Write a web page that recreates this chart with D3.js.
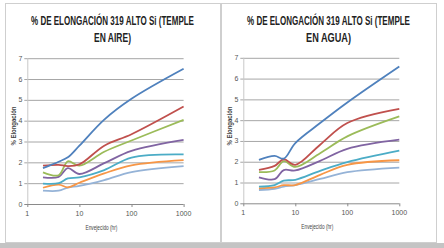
<!DOCTYPE html>
<html>
<head>
<meta charset="utf-8">
<script src="https://cdn.jsdelivr.net/npm/d3@7"></script>
<style>
  body { margin: 0; background: #fff; }
  svg { display: block; }
</style>
</head>
<body>
<div id="chart"></div>
<script>
// hours of aging (x axis, log scale)
const hours = [2, 4, 6, 10, 30, 100, 1000];
const xTicks = [1, 10, 100, 1000];
const yTicks = [0, 1, 2, 3, 4, 5, 6, 7];

// temple en aire
const aire1 = [1.72, 2.03, 2.24, 2.8, 4.05, 5.05, 6.49];
const aire2 = [1.84, 1.88, 1.82, 1.9, 2.8, 3.35, 4.68];
const aire3 = [1.52, 1.38, 2.05, 1.84, 2.51, 3.05, 4.04];
const aire4 = [1.28, 1.3, 1.72, 1.44, 1.96, 2.55, 3.08];
const aire5 = [0.98, 1.0, 1.23, 1.28, 1.63, 2.23, 2.38];
const aire6 = [0.78, 0.93, 0.8, 1.02, 1.47, 1.86, 2.11];
const aire7 = [0.64, 0.64, 0.79, 0.87, 1.15, 1.53, 1.82];

// temple en agua
const agua1 = [2.09, 2.28, 2.15, 2.9, 3.86, 4.85, 6.58];
const agua2 = [1.61, 1.8, 2.12, 1.85, 2.82, 3.86, 4.54];
const agua3 = [1.5, 1.58, 2.03, 1.75, 2.41, 3.22, 4.18];
const agua4 = [1.25, 1.16, 1.6, 1.58, 2.04, 2.62, 3.06];
const agua5 = [0.8, 0.88, 1.09, 1.13, 1.56, 1.98, 2.53];
const agua6 = [0.72, 0.77, 0.87, 0.88, 1.37, 1.85, 2.07];
const agua7 = [0.64, 0.7, 0.8, 0.88, 1.17, 1.5, 1.72];

const colors = ['#4F81BD', '#C0504D', '#9BBB59', '#8064A2', '#4BACC6', '#F79646', '#95B3D7'];

const width = 444, height = 248;
const font = 'Liberation Sans, Arial, sans-serif';

const svg = d3.select('#chart').append('svg')
  .attr('width', width)
  .attr('height', height);

// grey strip at the bottom
svg.append('rect').attr('x', 0).attr('y', 243).attr('width', width).attr('height', 5).attr('fill', '#c4c4c4');

// squeeze a text horizontally so it takes the given width (condensed look)
function fitText(sel, cx, cy, w) {
  const natural = sel.node().getComputedTextLength();
  sel.attr('x', 0).attr('y', 0)
    .attr('transform', `translate(${cx},${cy}) scale(${w / natural},1)`);
}

function drawChart(px, pw, plot, title1, title2, series, t2w) {
  // panel border
  svg.append('rect')
    .attr('x', px + 0.5).attr('y', 3.5)
    .attr('width', pw).attr('height', 239)
    .attr('fill', '#fff').attr('stroke', '#cfcfcf');

  const x = d3.scaleLog().domain([1, 1000]).range([plot.left, plot.right]);
  const y = d3.scaleLinear().domain([0, 7]).range([plot.bottom, plot.top]);

  const g = svg.append('g');

  // gridlines
  g.selectAll('line.grid').data(yTicks).join('line')
    .attr('x1', plot.left - 3).attr('x2', plot.right)
    .attr('y1', d => y(d) + 0.5).attr('y2', d => y(d) + 0.5)
    .attr('stroke', d => d === 0 ? '#8a8a8a' : '#a6a6a6').attr('stroke-width', 1);

  // y axis line
  g.append('line')
    .attr('x1', plot.left + 0.5).attr('x2', plot.left + 0.5)
    .attr('y1', plot.top).attr('y2', plot.bottom)
    .attr('stroke', '#c8c8c8');

  // x ticks
  g.selectAll('line.xt').data(xTicks).join('line')
    .attr('x1', d => x(d) + 0.5).attr('x2', d => x(d) + 0.5)
    .attr('y1', plot.bottom).attr('y2', plot.bottom + 3)
    .attr('stroke', '#8a8a8a');

  g.selectAll('text.yl').data(yTicks).join('text')
    .attr('x', plot.left - 5).attr('y', d => y(d) + 2.5)
    .attr('text-anchor', 'end')
    .attr('font-family', font)
    .attr('font-size', 7).attr('fill', '#555')
    .text(d => d);

  g.selectAll('text.xl').data(xTicks).join('text')
    .attr('x', d => x(d)).attr('y', plot.bottom + 12)
    .attr('text-anchor', 'middle')
    .attr('font-family', font)
    .attr('font-size', 7).attr('fill', '#555')
    .text(d => d);

  // axis titles
  const xt = g.append('text')
    .attr('text-anchor', 'middle')
    .attr('font-family', font)
    .attr('font-size', 7).attr('fill', '#444')
    .text('Envejecido (hr)');
  fitText(xt, (plot.left + plot.right) / 2 - 4, plot.bottom + 26, 32);

  g.append('text')
    .attr('transform', `translate(${px + 11},126) rotate(-90) scale(0.85,1)`)
    .attr('text-anchor', 'middle')
    .attr('font-family', font)
    .attr('font-size', 7).attr('font-weight', 'bold').attr('fill', '#444')
    .text('% Elongación');

  // title (two lines)
  const cx = px + pw / 2;
  const t1 = g.append('text')
    .attr('text-anchor', 'middle')
    .attr('font-family', font)
    .attr('font-size', 12.5).attr('font-weight', 'bold').attr('fill', '#222')
    .text(title1);
  fitText(t1, cx, 25, 163);
  const t2 = g.append('text')
    .attr('text-anchor', 'middle')
    .attr('font-family', font)
    .attr('font-size', 12.5).attr('font-weight', 'bold').attr('fill', '#222')
    .text(title2);
  fitText(t2, cx, 42, t2w);

  // series lines
  const line = d3.line()
    .x((d, i) => x(hours[i]))
    .y(d => y(d))
    .curve(d3.curveCatmullRom.alpha(0.5));

  series.slice().reverse().forEach((s, k) => {
    g.append('path')
      .attr('d', line(s))
      .attr('fill', 'none')
      .attr('stroke', colors[series.length - 1 - k])
      .attr('stroke-width', 1.8);
  });
}

drawChart(5, 215, { left: 27.3, right: 183.6, top: 58.2, bottom: 204 },
  '% DE ELONGACIÓN 319 ALTO Si (TEMPLE', 'EN AIRE)',
  [aire1, aire2, aire3, aire4, aire5, aire6, aire7], 37);

drawChart(221, 215, { left: 243.3, right: 399.3, top: 57.8, bottom: 203.3 },
  '% DE ELONGACIÓN 319 ALTO Si (TEMPLE', 'EN AGUA)',
  [agua1, agua2, agua3, agua4, agua5, agua6, agua7], 45);
</script>
</body>
</html>
